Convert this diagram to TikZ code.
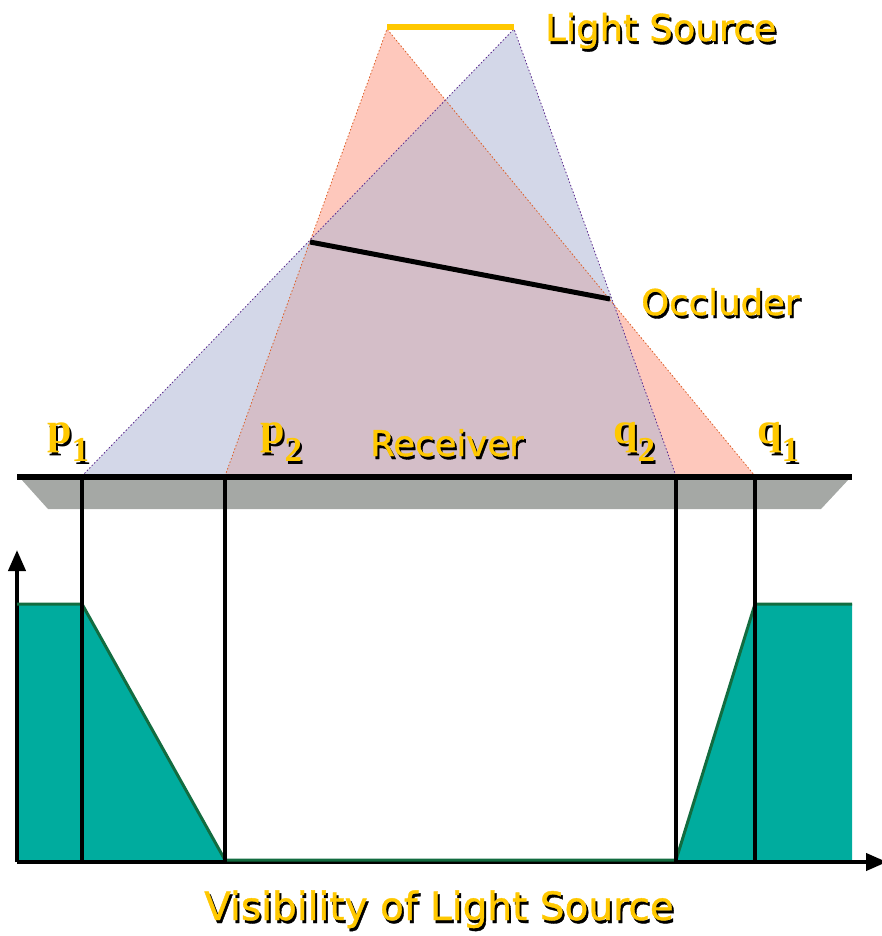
\documentclass[tikz,border=0pt]{standalone}
\usepackage{fontspec}
\setmainfont{Liberation Serif}
\setsansfont{DejaVu Sans}
\newfontfamily\labelsans{DejaVu Sans}[FakeBold=1]
\usetikzlibrary{arrows.meta,calc}

\definecolor{lightgold}{RGB}{255,200,0}
\definecolor{conered}{RGB}{254,200,188}
\definecolor{coneblue}{RGB}{211,215,232}
\definecolor{conemix}{RGB}{212,190,200}
\definecolor{rimred}{RGB}{220,95,40}
\definecolor{rimblue}{RGB}{90,40,140}
\definecolor{recgray}{RGB}{165,168,165}
\definecolor{visteal}{RGB}{0,172,158}
\definecolor{visgreen}{RGB}{18,108,64}

\newcommand{\fsz}[1]{\fontsize{#1}{#1}\selectfont}
% yellow text with a black drop shadow
\newcommand{\shadowed}[4][]{%
  \node[lbl,text=black,#1] (#2-s) at ($(#3)+(2,3)$) {#4};
  \node[lbl,#1] (#2) at (#3) {#4};}

\begin{document}
\begin{tikzpicture}[x=1pt,y=-1pt,
  lbl/.style={inner sep=0pt, anchor=base west, text=lightgold},
  redrim/.style={draw=rimred, line width=0.8pt, dash pattern=on 1.5pt off 2pt},
  bluerim/.style={draw=rimblue, line width=0.8pt, dash pattern=on 1.5pt off 2pt},
  bar/.style={line width=4pt},
  axis/.style={line width=4pt, -{Triangle[length=21pt,width=17pt]}}
]
\useasboundingbox (0,0) rectangle (882,936);

% light source, occluder and receiver points
\coordinate (ls1) at (387,29);
\coordinate (ls2) at (514,29);
\coordinate (oc1) at (310,242);
\coordinate (oc2) at (610,299);
\coordinate (p1) at (82,476);
\coordinate (p2) at (225,476);
\coordinate (q2) at (676,476);
\coordinate (q1) at (755,476);

% cones
\fill[conered] (ls1) -- (p2) -- (q1) -- cycle;
\fill[coneblue] (ls2) -- (p1) -- (q2) -- cycle;
\begin{scope}
  \clip (ls1) -- (p2) -- (q1) -- cycle;
  \fill[conemix] (ls2) -- (p1) -- (q2) -- cycle;
\end{scope}
\draw[redrim] (p2) -- (ls1) -- (q1);
\draw[bluerim] (p1) -- (ls2) -- (q2);

\draw[line width=6pt, lightgold] (ls1 |- 0,27) -- (ls2 |- 0,27);
\draw[line width=5pt] (oc1) -- (oc2);

% receiver
\coordinate (rl) at (17,476.5);
\coordinate (rr) at (852,476.5);
\fill[recgray] (21,479) -- (849,479) -- (821,509) -- (48,509) -- cycle;
\draw[line width=6pt] (rl) -- (rr);

% visibility plot
\coordinate (o) at (17,862);
\coordinate (ytop) at (17,550);
\coordinate (xend) at (887,862);
\fill[visteal] (17,604) -- (82,604) -- (225,860) -- (17,860) -- cycle;
\fill[visteal] (676,860) -- (755,604) -- (852,604) -- (852,860) -- cycle;
\draw[axis] (o) -- (ytop);
\draw[axis] (o) -- (xend);
\draw[visgreen, line width=3pt] (17,604) -- (82,604) -- (225,860) -- (676,860) -- (755,604) -- (852,604);
\foreach \c in {p1,p2,q2,q1}
  \draw[bar] (\c) -- (\c |- o);

% labels
\shadowed[font=\labelsans\fsz{37}]{lsrc}{545,41}{Light Source}
\shadowed[font=\labelsans\fsz{35.5}]{occ}{641,315}{Occluder}
\shadowed[font=\labelsans\fsz{35.5}]{rec}{370,456}{Receiver}
\shadowed[font=\labelsans\fsz{39}]{vis}{204,920}{Visibility of Light Source}
\shadowed[font=\rmfamily\bfseries\fsz{44}]{lp1}{47,443}{p\lower18pt\hbox{\fsz{35}1}}
\shadowed[font=\rmfamily\bfseries\fsz{44}]{lp2}{260,443}{p\lower18pt\hbox{\fsz{35}2}}
\shadowed[font=\rmfamily\bfseries\fsz{44}]{lq2}{613,443}{q\lower18pt\hbox{\fsz{35}2}}
\shadowed[font=\rmfamily\bfseries\fsz{44}]{lq1}{757,443}{q\lower18pt\hbox{\fsz{35}1}}
\end{tikzpicture}
\end{document}
